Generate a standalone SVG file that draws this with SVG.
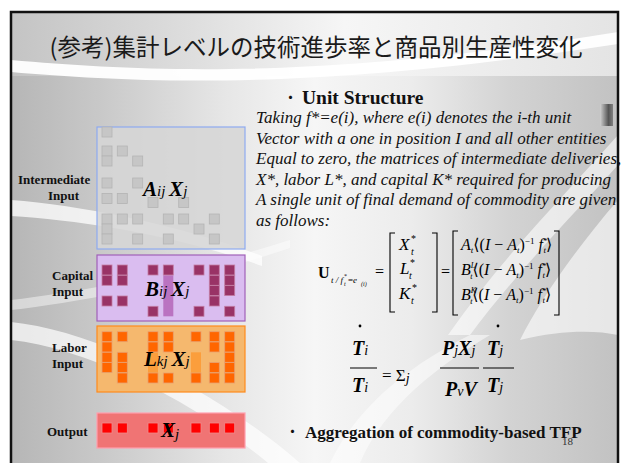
<svg xmlns="http://www.w3.org/2000/svg" width="621" height="463" viewBox="0 0 621 463">
<defs>
  <linearGradient id="bg" x1="0" y1="0" x2="1" y2="0">
    <stop offset="0" stop-color="#b6b6b6"/>
    <stop offset="0.15" stop-color="#c9c9c9"/>
    <stop offset="0.35" stop-color="#e6e6e6"/>
    <stop offset="0.5" stop-color="#f6f6f6"/>
    <stop offset="0.66" stop-color="#ececec"/>
    <stop offset="0.82" stop-color="#d3d3d3"/>
    <stop offset="1" stop-color="#c2c2c2"/>
  </linearGradient>
  <linearGradient id="band" x1="0" y1="0" x2="1" y2="0">
    <stop offset="0" stop-color="#c4c4c4"/>
    <stop offset="0.3" stop-color="#dedede"/>
    <stop offset="0.55" stop-color="#f6f6f6"/>
    <stop offset="1" stop-color="#e4e4e4"/>
  </linearGradient>
  <linearGradient id="tab" x1="0" y1="0" x2="1" y2="0">
    <stop offset="0" stop-color="#d0d0d0"/>
    <stop offset="0.65" stop-color="#555"/>
    <stop offset="1" stop-color="#808080"/>
  </linearGradient>
  <style>
    .lbl{font-family:"Liberation Serif",serif;font-weight:bold;font-size:13px;fill:#111}
    .sa{fill:#c6c6c6;stroke:#b4b4b4;stroke-width:0.8}
    .sb{fill:#993366;stroke:#c47ea4;stroke-width:0.8}
    .sl{fill:#ff6600;stroke:#e8a070;stroke-width:0.8}
    .so{fill:#ff0000;stroke:#f08a8a;stroke-width:0.8}
    .mx{font-family:"Liberation Serif","DejaVu Serif",serif;fill:#000}
    .it{font-style:italic}
    .bi{font-style:italic;font-weight:bold}
    .para{font-family:"Liberation Serif",serif;font-style:italic;font-size:17px;fill:#111}
    .br{fill:none;stroke:#000;stroke-width:1.1}
    .sw{fill:#fff}
  </style>
</defs>

<!-- slide background -->
<rect x="0" y="0" width="621" height="463" fill="#fff"/>
<rect x="11" y="12" width="607" height="460" fill="url(#bg)"/>
<path class="sw" opacity="0.75" d="M11,200 C80,205 180,225 262,256 L262,266 C180,236 80,220 11,216 Z"/>
<path class="sw" opacity="0.7" d="M11,322 C90,330 210,385 300,463 L268,463 C190,398 85,348 11,340 Z"/>
<path class="sw" opacity="0.45" d="M11,300 C80,292 190,272 290,240 L290,248 C190,282 80,302 11,310 Z"/>
<path class="sw" opacity="0.6" d="M618,135 C560,200 500,260 448,335 L470,335 C520,268 578,210 618,165 Z"/>
<path class="sw" opacity="0.6" d="M618,200 C575,250 540,300 520,340 C560,330 595,330 618,335 Z"/>
<path class="sw" opacity="0.5" d="M330,463 C360,400 420,360 470,335 L490,335 C440,365 385,405 360,463 Z"/>

<!-- title band -->
<rect x="11" y="12" width="607" height="64" fill="url(#band)"/>
<path class="sw" opacity="0.95" d="M11,60 C150,72 320,80 618,32 L618,44 C320,90 150,84 11,72 Z"/>
<rect x="600" y="104" width="13" height="22" fill="url(#tab)"/>
<rect x="11" y="12" width="607" height="460" fill="none" stroke="#111" stroke-width="2.5"/>

<text x="316" y="56" text-anchor="middle" font-family="'Noto Sans CJK JP',sans-serif" font-size="23.5" fill="#1a1a1a">(参考)集計レベルの技術進歩率と商品別生産性変化</text>

<!-- row labels -->
<g id="labels">
  <text class="lbl" x="18" y="184">Intermediate</text>
  <text class="lbl" x="48" y="200">Input</text>
  <text class="lbl" x="52" y="280">Capital</text>
  <text class="lbl" x="52" y="296">Input</text>
  <text class="lbl" x="52" y="352">Labor</text>
  <text class="lbl" x="52" y="368">Input</text>
  <text class="lbl" x="47" y="436">Output</text>
</g>

<!-- intermediate input block -->
<g id="intermediate">
  <rect x="97" y="127" width="148" height="122" fill="#d6d6d6" fill-opacity="0.85" stroke="#8eaaf0" stroke-width="1.2"/>
  <rect class="sa" x="102" y="127" width="10" height="10"/>
  <rect class="sa" x="102" y="146" width="10" height="10"/>
  <rect class="sa" x="117.3" y="146" width="10" height="10"/>
  <rect class="sa" x="102" y="156" width="10" height="10"/>
  <rect class="sa" x="132.7" y="156" width="10" height="10"/>
  <rect class="sa" x="102" y="178" width="10" height="10"/>
  <rect class="sa" x="132.7" y="178" width="10" height="10"/>
  <rect class="sa" x="102" y="193.5" width="10" height="10"/>
  <rect class="sa" x="117.3" y="193.5" width="10" height="10"/>
  <rect class="sa" x="148" y="197.5" width="10" height="10"/>
  <rect class="sa" x="178.7" y="197.5" width="10" height="10"/>
  <rect class="sa" x="102" y="214" width="10" height="10"/>
  <rect class="sa" x="117.3" y="214" width="10" height="10"/>
  <rect class="sa" x="132.7" y="214" width="10" height="10"/>
  <rect class="sa" x="163.3" y="214" width="10" height="10"/>
  <rect class="sa" x="178.7" y="214" width="10" height="10"/>
  <rect class="sa" x="209.3" y="214" width="10" height="10"/>
  <rect class="sa" x="102" y="224" width="10" height="10"/>
  <rect class="sa" x="194" y="224" width="10" height="10"/>
  <rect class="sa" x="102" y="234" width="10" height="10"/>
  <rect class="sa" x="132.7" y="234" width="10" height="10"/>
  <rect class="sa" x="163.3" y="234" width="10" height="10"/>
  <rect class="sa" x="209.3" y="234" width="10" height="10"/>
  <text class="mx" x="143" y="196" font-size="21"><tspan class="bi">A</tspan><tspan class="it" font-size="15">ij </tspan><tspan class="bi">X</tspan><tspan class="it" font-size="15">j</tspan></text>
</g>

<!-- capital input block -->
<g id="capital">
  <rect x="97" y="255" width="148" height="66" fill="#dabdf0" stroke="#a060b8" stroke-width="1.2"/>
  <rect x="163.3" y="275.3" width="10" height="41" fill="#b466b8" opacity="0.85"/>
  <rect class="sb" x="102" y="265" width="10" height="10"/>
  <rect class="sb" x="102" y="275.3" width="10" height="10"/>
  <rect class="sb" x="102" y="296" width="10" height="10"/>
  <rect class="sb" x="117.3" y="265" width="10" height="10"/>
  <rect class="sb" x="117.3" y="275.3" width="10" height="10"/>
  <rect class="sb" x="117.3" y="296" width="10" height="10"/>
  <rect class="sb" x="148" y="265" width="10" height="10"/>
  <rect class="sb" x="148" y="306.3" width="10" height="10"/>
  <rect class="sb" x="163.3" y="265" width="10" height="10"/>
  <rect class="sb" x="194" y="265" width="10" height="10"/>
  <rect class="sb" x="194" y="306.3" width="10" height="10"/>
  <rect class="sb" x="209.3" y="265" width="10" height="10"/>
  <rect class="sb" x="209.3" y="275.3" width="10" height="10"/>
  <rect class="sb" x="209.3" y="285.6" width="10" height="10"/>
  <rect class="sb" x="209.3" y="296" width="10" height="10"/>
  <rect class="sb" x="224.7" y="265" width="10" height="10"/>
  <rect class="sb" x="224.7" y="275.3" width="10" height="10"/>
  <rect class="sb" x="224.7" y="285.6" width="10" height="10"/>
  <rect class="sb" x="224.7" y="306.3" width="10" height="10"/>
  <text class="mx" x="145" y="296" font-size="21"><tspan class="bi">B</tspan><tspan class="it" font-size="15">ij </tspan><tspan class="bi">X</tspan><tspan class="it" font-size="15">j</tspan></text>
</g>

<!-- labor input block -->
<g id="labor">
  <rect x="97" y="326" width="148" height="66" fill="#f5b86e" stroke="#ff8a1c" stroke-width="1.2"/>
  <rect x="148" y="352.3" width="10" height="20.6" fill="#ff8c1a" opacity="0.6"/>
  <rect x="191" y="352.3" width="10" height="20.6" fill="#ff8c1a" opacity="0.6"/>
  <rect class="sl" x="102" y="331.7" width="10" height="10"/>
  <rect class="sl" x="102" y="342" width="10" height="10"/>
  <rect class="sl" x="102" y="352.3" width="10" height="10"/>
  <rect class="sl" x="102" y="362.6" width="10" height="10"/>
  <rect class="sl" x="117.3" y="331.7" width="10" height="10"/>
  <rect class="sl" x="117.3" y="352.3" width="10" height="10"/>
  <rect class="sl" x="117.3" y="362.6" width="10" height="10"/>
  <rect class="sl" x="117.3" y="373" width="10" height="10"/>
  <rect class="sl" x="148" y="331.7" width="10" height="10"/>
  <rect class="sl" x="148" y="342" width="10" height="10"/>
  <rect class="sl" x="148" y="373" width="10" height="10"/>
  <rect class="sl" x="163.3" y="331.7" width="10" height="10"/>
  <rect class="sl" x="163.3" y="342" width="10" height="10"/>
  <rect class="sl" x="163.3" y="373" width="10" height="10"/>
  <rect class="sl" x="191" y="331.7" width="10" height="10"/>
  <rect class="sl" x="191" y="373" width="10" height="10"/>
  <rect class="sl" x="209.3" y="331.7" width="10" height="10"/>
  <rect class="sl" x="209.3" y="342" width="10" height="10"/>
  <rect class="sl" x="209.3" y="362.6" width="10" height="10"/>
  <rect class="sl" x="209.3" y="373" width="10" height="10"/>
  <rect class="sl" x="224.7" y="331.7" width="10" height="10"/>
  <rect class="sl" x="224.7" y="342" width="10" height="10"/>
  <rect class="sl" x="224.7" y="352.3" width="10" height="10"/>
  <rect class="sl" x="224.7" y="362.6" width="10" height="10"/>
  <rect class="sl" x="224.7" y="373" width="10" height="10"/>
  <text class="mx" x="144" y="366" font-size="21"><tspan class="bi">L</tspan><tspan class="it" font-size="15">kj </tspan><tspan class="bi">X</tspan><tspan class="it" font-size="15">j</tspan></text>
</g>

<!-- output block -->
<g id="output">
  <rect x="97" y="413" width="148" height="35" fill="#f07474" stroke="#ff9fae" stroke-width="1.2"/>
  <rect class="so" x="102" y="423" width="10" height="10"/>
  <rect class="so" x="117.3" y="423" width="10" height="10"/>
  <rect class="so" x="148" y="423" width="10" height="10"/>
  <rect class="so" x="163.3" y="423" width="10" height="10"/>
  <rect class="so" x="191" y="423" width="10" height="10"/>
  <rect class="so" x="209.3" y="423" width="10" height="10"/>
  <rect class="so" x="224.7" y="423" width="10" height="10"/>
  <text class="mx" x="161" y="437" font-size="21"><tspan class="bi">X</tspan><tspan class="it" font-size="15" dy="2">j</tspan></text>
</g>

<!-- unit structure text -->
<g id="unit-structure">
  <text x="283" y="103" font-family="'Noto Sans CJK JP',sans-serif" font-size="15" fill="#111">・</text>
  <text x="302" y="104" font-family="'Liberation Serif',serif" font-weight="bold" font-size="19.5" fill="#111">Unit Structure</text>
  <text class="para" x="256" y="123">Taking f*=e(i), where e(i) denotes the i-th unit</text>
  <text class="para" x="256" y="143.5">Vector with a one in position I and all other entities</text>
  <text class="para" x="256" y="164">Equal to zero, the matrices of intermediate deliveries,</text>
  <text class="para" x="256" y="184.5">X*, labor L*, and capital K* required for producing</text>
  <text class="para" x="256" y="205">A single unit of final demand of commodity are given</text>
  <text class="para" x="256" y="225.5">as follows:</text>
</g>

<!-- matrix equation -->
<g id="matrix">
  <text class="mx" x="318" y="278" font-size="16" font-weight="bold">U</text>
  <text class="mx it" x="331" y="283" font-size="9">t / f</text>
  <text class="mx" x="344" y="278" font-size="6">*</text>
  <text class="mx it" x="344" y="286" font-size="6">t</text>
  <text class="mx" x="348" y="283" font-size="9">=<tspan class="it">e</tspan></text>
  <text class="mx it" x="361" y="286" font-size="6">(i)</text>
  <text class="mx" x="375" y="277" font-size="16">=</text>
  <path class="br" d="M395,233 H390 V312 H395"/>
  <path class="br" d="M432,233 H437 V312 H432"/>
  <text class="mx it" x="399" y="250" font-size="17">X</text>
  <text class="mx" x="411" y="242" font-size="10">*</text>
  <text class="mx it" x="411" y="255" font-size="10">t</text>
  <text class="mx it" x="400" y="274" font-size="17">L</text>
  <text class="mx" x="410" y="266" font-size="10">*</text>
  <text class="mx it" x="409" y="279" font-size="10">t</text>
  <text class="mx it" x="399" y="299" font-size="17">K</text>
  <text class="mx" x="412" y="291" font-size="10">*</text>
  <text class="mx it" x="411" y="304" font-size="10">t</text>
  <text class="mx" x="441" y="277" font-size="16">=</text>
  <path class="br" d="M458,231 H453 V315 H458"/>
  <path class="br" d="M554,231 H559 V315 H554"/>
  <text class="mx" x="461" y="250" font-size="16"><tspan class="it">A</tspan><tspan class="it" font-size="9" dy="3">t</tspan><tspan dy="-3">⟨(</tspan><tspan class="it">I</tspan> − <tspan class="it">A</tspan><tspan class="it" font-size="9" dy="3">t</tspan><tspan dy="-3">)</tspan><tspan font-size="9" dy="-6">−1</tspan><tspan class="it" dy="6"> f</tspan><tspan font-size="9" dy="-6">*</tspan><tspan class="it" font-size="9" dx="-4" dy="9">t</tspan><tspan dy="-3">⟩</tspan></text>
  <text class="mx" x="461" y="275" font-size="16"><tspan class="it">B</tspan><tspan class="it" font-size="8" dy="-7">L</tspan><tspan class="it" font-size="8" dx="-5" dy="11">t</tspan><tspan dy="-4">⟨(</tspan><tspan class="it">I</tspan> − <tspan class="it">A</tspan><tspan class="it" font-size="9" dy="3">t</tspan><tspan dy="-3">)</tspan><tspan font-size="9" dy="-6">−1</tspan><tspan class="it" dy="6"> f</tspan><tspan font-size="9" dy="-6">*</tspan><tspan class="it" font-size="9" dx="-4" dy="9">t</tspan><tspan dy="-3">⟩</tspan></text>
  <text class="mx" x="461" y="300" font-size="16"><tspan class="it">B</tspan><tspan class="it" font-size="8" dy="-7">K</tspan><tspan class="it" font-size="8" dx="-6" dy="11">t</tspan><tspan dy="-4">⟨(</tspan><tspan class="it">I</tspan> − <tspan class="it">A</tspan><tspan class="it" font-size="9" dy="3">t</tspan><tspan dy="-3">)</tspan><tspan font-size="9" dy="-6">−1</tspan><tspan class="it" dy="6"> f</tspan><tspan font-size="9" dy="-6">*</tspan><tspan class="it" font-size="9" dx="-4" dy="9">t</tspan><tspan dy="-3">⟩</tspan></text>
</g>

<!-- aggregation formula -->
<g id="aggregation">
  <circle cx="360" cy="326" r="1.4" fill="#000"/>
  <circle cx="498" cy="326" r="1.4" fill="#000"/>
  <text class="mx" x="352" y="355" font-size="20"><tspan class="bi">T</tspan><tspan class="it" font-size="14">i</tspan></text>
  <line x1="350" y1="368" x2="377" y2="368" stroke="#000" stroke-width="1"/>
  <text class="mx" x="352" y="392" font-size="20"><tspan class="bi">T</tspan><tspan class="it" font-size="14">i</tspan></text>
  <text class="mx" x="382" y="381" font-size="17">= Σ<tspan class="it" font-size="14" dy="2">j</tspan></text>
  <text class="mx" x="442" y="355" font-size="20"><tspan class="bi">P</tspan><tspan class="it" font-size="14">j</tspan><tspan class="bi">X</tspan><tspan class="it" font-size="14">j</tspan></text>
  <line x1="440" y1="368" x2="479" y2="368" stroke="#000" stroke-width="1"/>
  <text class="mx" x="445" y="396" font-size="20"><tspan class="bi">P</tspan><tspan class="it" font-size="14">v</tspan><tspan class="bi">V</tspan></text>
  <text class="mx" x="487" y="355" font-size="20"><tspan class="bi">T</tspan><tspan class="it" font-size="14">j</tspan></text>
  <line x1="483" y1="368" x2="514" y2="368" stroke="#000" stroke-width="1"/>
  <text class="mx" x="487" y="392" font-size="20"><tspan class="bi">T</tspan><tspan class="it" font-size="14">j</tspan></text>
  <text x="285" y="437" font-family="'Noto Sans CJK JP',sans-serif" font-size="15" fill="#111">・</text>
  <text x="305" y="438" font-family="'Liberation Serif',serif" font-weight="bold" font-size="17" fill="#111">Aggregation of commodity-based TFP</text>
  <text x="562" y="445" font-family="'Liberation Serif',serif" font-size="11" fill="#333">18</text>
</g>
</svg>
